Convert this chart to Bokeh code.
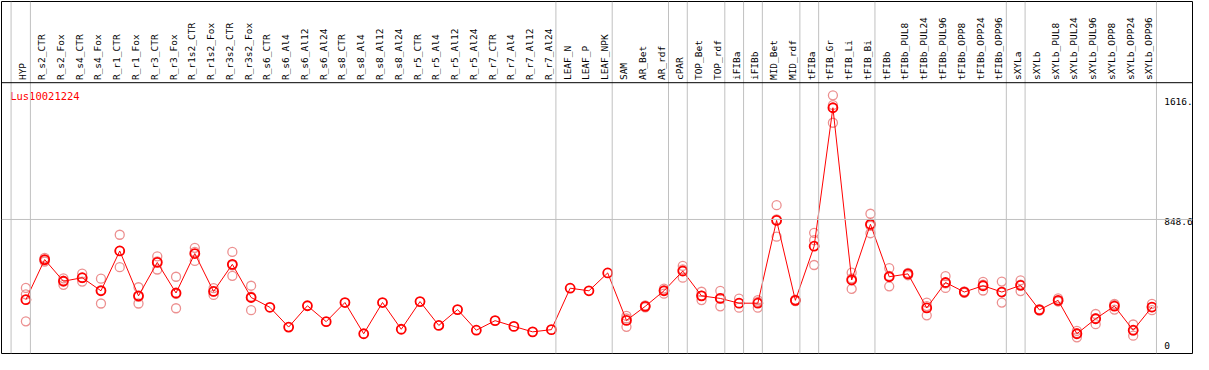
import math
import numpy as np
from bokeh.plotting import figure
from bokeh.models import ColumnDataSource, Range1d, Span
from bokeh.core.properties import value
from bokeh.embed import file_html
from bokeh.resources import INLINE

# ---------------- data ----------------
labels = ["HYP", "R_s2_CTR", "R_s2_Fox", "R_s4_CTR", "R_s4_Fox", "R_r1_CTR", "R_r1_Fox",
          "R_r3_CTR", "R_r3_Fox", "R_r1s2_CTR", "R_r1s2_Fox", "R_r3s2_CTR", "R_r3s2_Fox",
          "R_s6_CTR", "R_s6_Al4", "R_s6_Al12", "R_s6_Al24", "R_s8_CTR", "R_s8_Al4",
          "R_s8_Al12", "R_s8_Al24", "R_r5_CTR", "R_r5_Al4", "R_r5_Al12", "R_r5_Al24",
          "R_r7_CTR", "R_r7_Al4", "R_r7_Al12", "R_r7_Al24", "LEAF_N", "LEAF_P", "LEAF_NPK",
          "SAM", "AR_Bet", "AR_rdf", "cPAR", "TOP_Bet", "TOP_rdf", "iFIBa", "iFIBb",
          "MID_Bet", "MID_rdf", "tFIBa", "tFIB_Gr", "tFIB_Li", "tFIB_Bi", "tFIBb",
          "tFIBb_PUL8", "tFIBb_PUL24", "tFIBb_PUL96", "tFIBb_OPP8", "tFIBb_OPP24",
          "tFIBb_OPP96", "sXYLa", "sXYLb", "sXYLb_PUL8", "sXYLb_PUL24", "sXYLb_PUL96",
          "sXYLb_OPP8", "sXYLb_OPP24", "sXYLb_OPP96"]

mean_vals = [297.7, 573.2, 424.3, 448.6, 358.7, 632.2, 324.0, 553.5, 343.6, 614.5, 354.1,
             540.4, 312.8, 245.3, 109.5, 255.8, 146.9, 278.1, 63.6, 278.1, 94.4, 284.6,
             120.7, 229.5, 87.9, 153.5, 114.1, 76.7, 91.8, 376.4, 358.7, 481.3, 155.4,
             251.8, 358.7, 494.5, 324.0, 306.3, 273.5, 273.5, 842.0, 293.1, 665.0, 1616.0,
             432.8, 815.8, 455.1, 474.8, 240.7, 415.8, 350.2, 393.5, 350.2, 396.1, 227.6,
             293.1, 63.6, 166.6, 253.8, 87.9, 247.2]

nan = float("nan")
rep_a = [378.4, 585.0, 444.0, 476.8, 442.0, 743.7, 383.0, 594.8, 455.1, 653.8, 376.4,
         625.6, 393.5] + [nan] * 19 + [186.2, 258.0, 373.8, 529.2, 352.2, 358.7, 304.3,
         295.1, 947.0, 298.0, 756.8, 1701.0, 483.3, 887.9, 514.1, 465.6, 278.1, 459.1,
         355.0, 419.7, 422.3, 430.9, 232.0, 306.3, 83.3, 199.4, 268.9, 127.2, 268.9]
rep_b = [334.4, 568.0, 400.0, 422.3, 271.5, 520.7, 271.5, 505.0, 238.7, 564.0, 330.5,
         461.7, 225.6] + [nan] * 19 + [111.5, 245.0, 339.0, 448.6, 295.1, 251.8, 242.6,
         242.6, 730.5, 288.0, 706.3, 1512.9, 371.8, 754.1, 389.5, 478.0, 190.2, 378.4,
         345.0, 360.7, 278.1, 356.7, 222.0, 287.0, 39.3, 129.2, 229.5, 50.5, 225.6]
rep_c = [148.9, 560.0, 429.0, 446.7, 362.6, 632.2, 317.5, 560.7, 337.0, 625.7, 355.4,
         533.9, 319.3] + [nan] * 19 + [168.5, 252.0, 363.3, 505.7, 324.7, 308.4, 273.6,
         283.0, 848.5, 293.0, 535.8, 1634.0, 443.3, 805.4, 461.7, 481.0, 253.8, 409.9,
         350.2, 400.1, 350.2, 400.7, 228.0, 286.0, 68.2, 171.2, 263.0, 86.0, 247.1]

# columns after which a group separator line is drawn
group_ends = [0, 28, 31, 34, 35, 37, 38, 39, 41, 42, 45, 52, 53, 60]

tick_values = [0, 848.6, 1616.0]
tick_labels = ["0", "848.6", "1616."]
title_text = "Lus10021224"

# ---------------- figure ----------------
W, H = 1193, 354
p = figure(width=W, height=H, output_backend="svg", toolbar_location=None,
           x_range=Range1d(-1.3, 62.16), y_range=Range1d(-72.0, 2345.7),
           min_border_left=1, min_border_right=1, min_border_top=1, min_border_bottom=1)
p.axis.visible = False
p.grid.visible = False
p.outline_line_color = "black"
p.outline_line_width = 1
p.background_fill_color = "white"

xs = list(range(len(labels)))
FONT = value("DejaVu Sans Mono")

# gray grid lines
p.add_layout(Span(location=-0.79, dimension="height", line_color="#c0c0c0", line_width=1))
for g in group_ends:
    p.add_layout(Span(location=g + 0.24, dimension="height", line_color="#c0c0c0", line_width=1))
p.add_layout(Span(location=848.6, dimension="width", line_color="#c0c0c0", line_width=1))

# header separator
p.add_layout(Span(location=1788.0, dimension="width", line_color="black", line_width=1))

# header labels (vertical)
hsrc = ColumnDataSource(dict(x=xs, y=[1806.0] * len(xs), t=labels))
p.text(x="x", y="y", text="t", source=hsrc, angle=math.pi / 2, text_align="left",
       text_baseline="alphabetic", text_font=FONT, text_font_size="9.5px",
       text_color="black", x_offset=-3)

# replicate points
for rep in (rep_a, rep_b, rep_c):
    rsrc = ColumnDataSource(dict(x=xs, y=rep))
    p.scatter(x="x", y="y", source=rsrc, marker="circle", size=9, fill_color=None,
              line_color="#ec9090", line_width=1.3)

# mean line + points
msrc = ColumnDataSource(dict(x=xs, y=mean_vals))
p.line(x="x", y="y", source=msrc, line_color="red", line_width=1)
p.scatter(x="x", y="y", source=msrc, marker="circle", size=9, fill_color=None,
          line_color="red", line_width=1.8)

# right-side tick labels
tsrc = ColumnDataSource(dict(x=[60.65] * 3, y=tick_values, t=tick_labels, off=[-1, -1, -10]))
p.text(x="x", y="y", text="t", source=tsrc, text_align="left", text_baseline="top",
       y_offset="off", text_font=FONT, text_font_size="9.5px", text_color="black")

# title
p.text(x=[-0.84], y=[1740.0], text=[title_text], text_align="left", text_baseline="top",
       text_font=FONT, text_font_size="10.5px", text_color="red")

open("out.html", "w").write(file_html(p, INLINE))
